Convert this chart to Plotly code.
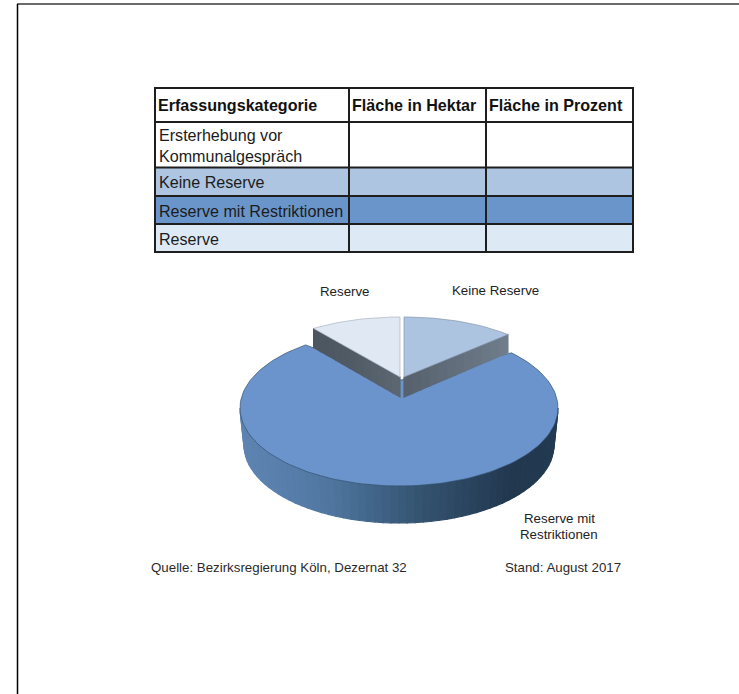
import math
import plotly.graph_objects as go

# Table content
table_header = ["Erfassungskategorie", "Fläche in Hektar", "Fläche in Prozent"]
table_rows = [["Ersterhebung vor", "Kommunalgespräch"], ["Keine Reserve"],
              ["Reserve mit Restriktionen"], ["Reserve"]]
table_fills = ["#FFFFFF", "#ADC5E0", "#6A95CA", "#DDEAF6"]

# Pie shares in percent, clockwise from twelve o'clock
slice_names = ["Keine Reserve", "Reserve mit Restriktionen", "Reserve"]
slice_shares = [12.5, 77.5, 10.0]

source_text = "Quelle: Bezirksregierung Köln, Dezernat 32"
date_text = "Stand: August 2017"

FONT = "Liberation Sans"
col_edges = [155, 349, 486, 633]
row_edges = [88, 122, 167.5, 196, 224, 252]

fig = go.Figure()


def lerp_color(stops, t):
    t = max(0, min(1, t)) * (len(stops) - 1)
    i = min(int(t), len(stops) - 2)
    f = t - i
    a, b = stops[i], stops[i + 1]
    ca = [int(a[k:k + 2], 16) for k in (1, 3, 5)]
    cb = [int(b[k:k + 2], 16) for k in (1, 3, 5)]
    return "rgb(%d,%d,%d)" % tuple(round(p + (q - p) * f) for p, q in zip(ca, cb))


def polygon(xs, ys, color, line=None, width=0.0):
    fig.add_trace(go.Scatter(
        x=xs + xs[:1], y=ys + ys[:1], mode="lines", fill="toself", fillcolor=color,
        line=dict(color=line or color, width=width), hoverinfo="skip", showlegend=False))


def ellipse_point(cx, cy, rx, ry, deg):
    a = math.radians(deg)
    return cx + rx * math.sin(a), cy - ry * math.cos(a)


def wedge(cx, cy, rx, ry, start, end, apex, color, line):
    n = max(8, int(abs(end - start) / 2))
    pts = [ellipse_point(cx, cy, rx, ry, start + (end - start) * i / n) for i in range(n + 1)]
    polygon([apex[0]] + [p[0] for p in pts], [apex[1]] + [p[1] for p in pts], color, line, 0.7)


def side_band(p0, p1, depth0, depth1, stops, n=12):
    # Straight cut face of a slice, shaded in narrow strips
    for i in range(n):
        t0, t1 = i / n, (i + 1) / n
        xa, ya = p0[0] + (p1[0] - p0[0]) * t0, p0[1] + (p1[1] - p0[1]) * t0
        xb, yb = p0[0] + (p1[0] - p0[0]) * t1, p0[1] + (p1[1] - p0[1]) * t1
        da = depth0 + (depth1 - depth0) * t0
        db = depth0 + (depth1 - depth0) * t1
        polygon([xa, xb, xb, xa], [ya, yb, yb + db, ya + da],
                lerp_color(stops, (t0 + t1) / 2), None, 1.2)


# Slice angles derived from the shares
total = sum(slice_shares)
angles = [0]
for share in slice_shares:
    angles.append(angles[-1] + 360 * share / total)

# Large slice: rim first, then the top surface. The lower edge is a little
# narrower than the top for the tilted view.
MAIN = dict(cx=399, cy=408, rx=159, ry=78)
RIM = dict(cx=399, cy=445, rx=155, ry=78)
rim_stops = ["#5E84B2", "#587EAC", "#4F769F", "#416488", "#34536F", "#2B4560", "#22384F", "#233A52"]
for deg in range(270, 90, -3):
    d0, d1 = deg, deg - 3
    x0, y0 = ellipse_point(**MAIN, deg=d0)
    x1, y1 = ellipse_point(**MAIN, deg=d1)
    x2, y2 = ellipse_point(**RIM, deg=d1)
    x3, y3 = ellipse_point(**RIM, deg=d0)
    t = ((x0 + x1) / 2 - (MAIN["cx"] - MAIN["rx"])) / (2 * MAIN["rx"])
    polygon([x0, x1, x2, x3], [y0, y1, y2, y3], lerp_color(rim_stops, t), None, 1.2)
wedge(MAIN["cx"], MAIN["cy"], MAIN["rx"], MAIN["ry"], angles[1], angles[2], (401, 380), "#6A94CB", "#34506F")

# Small slices, pulled out of the pie, with their cut faces
WEDGE_R = dict(rx=147, ry=60)
apex_right = (404, 377)
apex_left = (400, 377)
corner_right = ellipse_point(apex_right[0], apex_right[1], deg=angles[1], **WEDGE_R)
corner_left = ellipse_point(apex_left[0], apex_left[1], deg=angles[2], **WEDGE_R)
side_band(apex_right, corner_right, 20, 18, ["#56616D", "#626E7B", "#707D8B"])
side_band(corner_left, apex_left, 19, 20, ["#4B555F", "#525C67", "#5C6772"])
wedge(apex_right[0], apex_right[1], WEDGE_R["rx"], WEDGE_R["ry"], 0, angles[1], apex_right, "#ADC4E0", "#8497AE")
wedge(apex_left[0], apex_left[1], WEDGE_R["rx"], WEDGE_R["ry"], angles[2], 360, apex_left, "#E0E8F4", "#A9B3C0")

# Table cells and grid
shapes = []
for i, color in enumerate(table_fills):
    shapes.append(dict(type="rect", x0=col_edges[0], x1=col_edges[-1], y0=row_edges[i + 1], y1=row_edges[i + 2],
                       fillcolor=color, line_width=0, layer="below"))
for y in row_edges:
    shapes.append(dict(type="line", x0=col_edges[0] - 1, x1=col_edges[-1] + 1, y0=y, y1=y,
                       line=dict(color="#1E1E1E", width=2)))
for x in col_edges:
    shapes.append(dict(type="line", x0=x, x1=x, y0=row_edges[0], y1=row_edges[-1],
                       line=dict(color="#1E1E1E", width=2)))

# Page frame
shapes.append(dict(type="line", x0=17, x1=739, y0=4, y1=4, line=dict(color="#3A3A3A", width=1.5)))
shapes.append(dict(type="line", x0=17.5, x1=17.5, y0=4, y1=694, line=dict(color="#000000", width=1.5)))


def label(text, x, y, size, anchor="left", bold=False, color="#1C1C1C"):
    return dict(text=f"<b>{text}</b>" if bold else text, x=x, y=y, xref="x", yref="y",
                xanchor=anchor, yanchor="middle", showarrow=False,
                font=dict(family=FONT, size=size, color=color))


annotations = []
for text, x in zip(table_header, [156, 350, 487]):
    annotations.append(label(text, x, 105, 16.1, bold=True, color="#111111"))
row_centers = [(134.5, 156), (182,), (210.5,), (238.5,)]
for lines, centers in zip(table_rows, row_centers):
    for text, y in zip(lines, centers):
        annotations.append(label(text, 156.5, y, 16.1))

annotations += [
    label(slice_names[2], 345, 291, 13.3, "center", color="#222222"),
    label(slice_names[0], 495.5, 290, 13.3, "center", color="#222222"),
    label("Reserve mit", 559, 518, 13.3, "center", color="#222222"),
    label("Restriktionen", 559, 534, 13.3, "center", color="#222222"),
    label(source_text, 149, 567, 13.3, color="#2A2A2A"),
    label(date_text, 503, 567, 13.3, color="#2A2A2A"),
]

fig.update_layout(
    width=739, height=694, autosize=False,
    margin=dict(l=0, r=0, t=0, b=0),
    paper_bgcolor="white", plot_bgcolor="white",
    xaxis=dict(range=[0, 739], visible=False, fixedrange=True),
    yaxis=dict(range=[694, 0], visible=False, fixedrange=True),
    shapes=shapes, annotations=annotations, showlegend=False,
)
fig.write_html("out.html", config=dict(displayModeBar=False))
